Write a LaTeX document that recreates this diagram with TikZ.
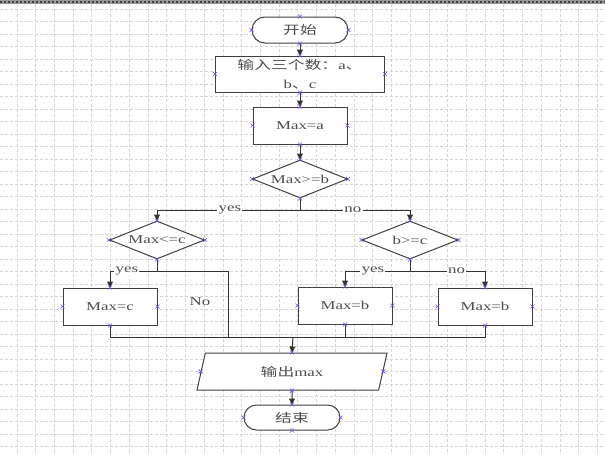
\documentclass[tikz,border=0pt]{standalone}
\usepackage{fontspec}
\setmainfont{Liberation Serif}[FakeStretch=1.4]
\newfontfamily\cjk{Noto Sans CJK SC}[FakeStretch=1.4]
\usetikzlibrary{arrows.meta,shapes.geometric,shapes.misc}
\definecolor{markblue}{RGB}{85,85,245}

\begin{document}
\begin{tikzpicture}[x=0.75pt, y=-0.75pt,
    every node/.style={
        inner sep=0pt,
        text=black!70,
        font=\fontsize{9}{14}\selectfont
    },
    shape line/.style={draw=black!75, line width=0.75pt, fill=white},
    term/.style={shape line, rounded rectangle, minimum width=72pt, minimum height=19.5pt},
    box/.style={shape line, rectangle, minimum width=70.5pt, minimum height=27.75pt},
    cond/.style={shape line, diamond, aspect=2.5, minimum width=71.25pt, minimum height=28.5pt},
    io/.style={shape line, trapezium, trapezium left angle=53, trapezium right angle=127,
        trapezium stretches body, minimum width=142.5pt, minimum height=27.75pt},
    lbl/.style={fill=white, inner sep=1pt},
    flow/.style={draw=black!80, line width=0.75pt},
    arr/.style={flow, -{Triangle[length=4.5pt, width=4.5pt]}},
    grid line/.style={draw=black!17, line width=0.75pt, dash pattern=on 2.25pt off 1.5pt},
    markx/.style={draw=markblue, line width=0.5pt}
]
    \useasboundingbox (0,0) rectangle (605,454);

    %page grid
    \fill[black!40] (0,0) rectangle (605,3.5);
    \draw[black!75, line width=1.5pt, dash pattern=on 1.5pt off 1.5pt] (0,1.5) -- (605,1.5);
    \foreach \k in {0,...,31}
        \draw[grid line] ({17+18.73*\k},3.5) -- ({17+18.73*\k},454);
    \foreach \k in {0,...,35}
        \draw[grid line] (0,{9+12.5*\k}) -- (605,{9+12.5*\k});

    \node (start) [term, shift={(300, 30)}]
    {
        {\cjk 开始}
    };
    \node (input) [box, align=center, minimum width=126.75pt, minimum height=27pt, shift={(300, 74)}]
    {
        {\cjk 输入三个数：}a{\cjk 、}\\
        b{\cjk 、}c
    };
    \node (maxa) [box, shift={(300, 125.5)}]
    {
        Max=a
    };
    \node (cmpb) [cond, shift={(300, 179)}]
    {
        Max>=b
    };

    %left side
    \node (cmpc) [cond, shift={(157, 240)}]
    {
        Max<=c
    };
    \node (maxc) [box, shift={(110, 306.5)}]
    {
        Max=c
    };
    \node (nolbl) [shift={(200, 302)}]
    {
        No
    };

    %right side
    \node (cmpbc) [cond, minimum width=72pt, shift={(410, 240)}]
    {
        b>=c
    };
    \node (maxb1) [box, shift={(345, 305.5)}]
    {
        Max=b
    };
    \node (maxb2) [box, shift={(485, 306.5)}]
    {
        Max=b
    };

    \node (output) [io, shift={(292, 371.5)}]
    {
        {\cjk 输出}max
    };
    \node (finish) [term, minimum height=18.75pt, shift={(292, 417.5)}]
    {
        {\cjk 结束}
    };

    \coordinate (split) at (300, 210);
    \coordinate (lsplit) at (157, 271);
    \coordinate (rsplit) at (410, 271);
    \coordinate (njoin) at (228, 337);
    \coordinate (merge) at (293, 337);

    \draw[arr] (start.south) to (input.north);
    \draw[arr] (input.south) to (maxa.north);
    \draw[arr] (maxa.south) to (cmpb.north);

    \draw[flow] (cmpb.south) to (split);
    \draw[arr] (split) -| node[lbl, pos=0.245] (yes1) {yes} (cmpc.north);
    \draw[arr] (split) -| node[lbl, pos=0.24] (no1) {no} (cmpbc.north);

    \draw[flow] (cmpc.south) to (lsplit);
    \draw[arr] (lsplit) -| node[lbl, pos=0.32] (yes2) {yes} (maxc.north);
    \draw[flow] (lsplit) -| (njoin);

    \draw[flow] (cmpbc.south) to (rsplit);
    \draw[arr] (rsplit) -| node[lbl, pos=0.285] (yes3) {yes} (maxb1.north);
    \draw[arr] (rsplit) -| node[lbl, pos=0.31] (no2) {no} (maxb2.north);

    \draw[flow] (maxc.south) |- (merge);
    \draw[flow] (maxb1.south) |- (merge);
    \draw[flow] (maxb2.south) |- (merge);
    \draw[arr] (merge) to (output.north);
    \draw[arr] (output.south) to (finish.north);

    %connection points
    \foreach \n in {start,input,maxa,cmpb,cmpc,cmpbc,maxc,maxb1,maxb2,output,finish}
        \foreach \a in {north,south,east,west}
            \draw[markx] (\n.\a) +(-2,-2) -- +(2,2) +(-2,2) -- +(2,-2);

\end{tikzpicture}
\end{document}
